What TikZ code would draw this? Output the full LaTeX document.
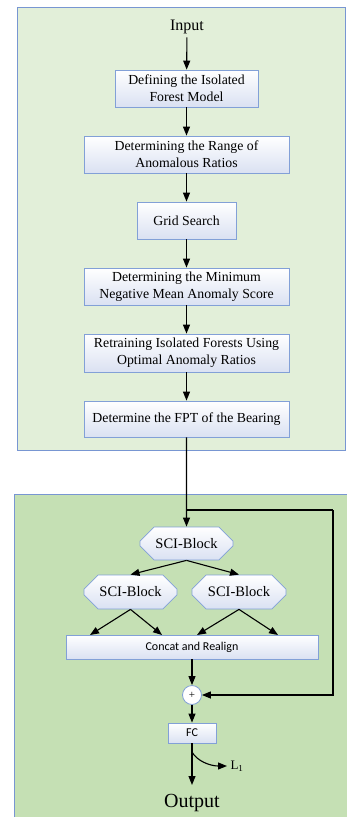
\documentclass[tikz,border=0pt]{standalone}
\usepackage{fontspec}
\setmainfont{Liberation Serif}
\newfontfamily\calfont{Carlito}
\usepackage{tikz}
\usetikzlibrary{arrows.meta, positioning, shapes.misc, calc}
\definecolor{topbg}{RGB}{226,239,217}
\definecolor{botbg}{RGB}{197,224,180}
\definecolor{frameblue}{RGB}{120,150,210}
\definecolor{boxedge}{RGB}{130,160,215}
\definecolor{boxshade}{RGB}{218,225,242}

\tikzset{
  stage/.style={draw=boxedge, thick, top color=white, bottom color=boxshade,
                align=center, inner sep=1pt, font=\fontsize{13.8}{17}\selectfont},
  sciblock/.style={chamfered rectangle, chamfered rectangle xsep=9pt,
                   chamfered rectangle ysep=9pt, draw=boxedge, thick,
                   top color=white, bottom color=boxshade, inner sep=0pt,
                   font=\fontsize{14.5}{17}\selectfont},
  calbox/.style={draw=boxedge, thick, top color=white, bottom color=boxshade,
                 inner sep=0pt, font=\calfont\fontsize{12}{14}\selectfont},
  arr/.style={-{Triangle[length=9pt,width=7pt]}, line width=1.1pt},
}

\begin{document}
\begin{tikzpicture}[x=1pt, y=-1pt]
    \useasboundingbox (0,0) rectangle (347,817);
    % frames
    \fill[topbg] (17,7) rectangle (345,450);
    \draw[frameblue, thick] (17,7) rectangle (345,450);
    \fill[botbg] (14,494) rectangle (347,819);
    \draw[frameblue, thick] (14,819) -- (14,494) -- (349,494);
    % input and FPT stages
    \node[font=\fontsize{16}{18}\selectfont] (in) at (187,27) {Input};
    \node[stage, minimum width=143pt, minimum height=37pt] (s1) at (186.5,88.5)
        {Defining the Isolated\\Forest Model};
    \node[stage, minimum width=205pt, minimum height=37pt] (s2) at (186.5,154.5)
        {Determining the Range of\\Anomalous Ratios};
    \node[stage, minimum width=99pt, minimum height=37pt] (s3) at (186.5,220.5)
        {Grid Search};
    \node[stage, minimum width=205pt, minimum height=37pt] (s4) at (186.5,286.5)
        {Determining the Minimum\\Negative Mean Anomaly Score};
    \node[stage, minimum width=205pt, minimum height=38pt] (s5) at (186.5,353)
        {Retraining Isolated Forests Using\\Optimal Anomaly Ratios};
    \node[stage, minimum width=205pt, minimum height=36pt] (s6) at (186.5,419)
        {Determine the FPT of the Bearing};
    \foreach \a/\b in {in/s1, s1/s2, s2/s3, s3/s4, s4/s5, s5/s6}
      \draw[arr] (\a) -- (\b);
    % SCI part
    \node[sciblock, minimum width=93pt, minimum height=33pt] (sci) at (186.5,543.5) {SCI-Block};
    \node[sciblock, minimum width=93pt, minimum height=34pt] (scil) at (130.5,592) {SCI-Block};
    \node[sciblock, minimum width=94pt, minimum height=34pt] (scir) at (239,592) {SCI-Block};
    \node[calbox, minimum width=252pt, minimum height=24pt] (cat) at (192,647) {Concat and Realign};
    \node[circle, draw=boxedge, thick, fill=white, minimum size=19pt, inner sep=0pt,
          font=\fontsize{11}{11}\selectfont] (plus) at (192,695) {+};
    \node[calbox, minimum width=48pt, minimum height=20pt] (fc) at (192,733) {FC};
    \node[font=\fontsize{20}{22}\selectfont] (out) at (192,803) {Output};
    \coordinate (br) at (187,510);
    \coordinate (loop) at (333,510);
    \draw[arr] (s6) -- (sci);
    \draw[line width=1.1pt] (br) -- (loop);
    \draw[arr] (loop) |- (plus);
    \draw[arr] (sci.south) -- (scil.north);
    \draw[arr] (sci.south) -- (scir.north);
    \draw[arr] (scil.south) -- (90,635);
    \draw[arr] (scil.south) -- (162,635);
    \draw[arr] (scir.south) -- (197,635);
    \draw[arr] (scir.south) -- (278,635);
    \draw[arr] (cat) -- (plus);
    \draw[arr] (plus) -- (fc);
    \draw[arr] (fc) -- (192,785);
    % L1 branch
    \coordinate (l1s) at (192,752);
    \node[anchor=west, font=\fontsize{13}{15}\selectfont] (l1) at (227,766) {L\textsubscript{1}};
    \draw[arr] (l1s) .. controls (197,761) and (210,766) .. (l1.west);
  \end{tikzpicture}
\end{document}
